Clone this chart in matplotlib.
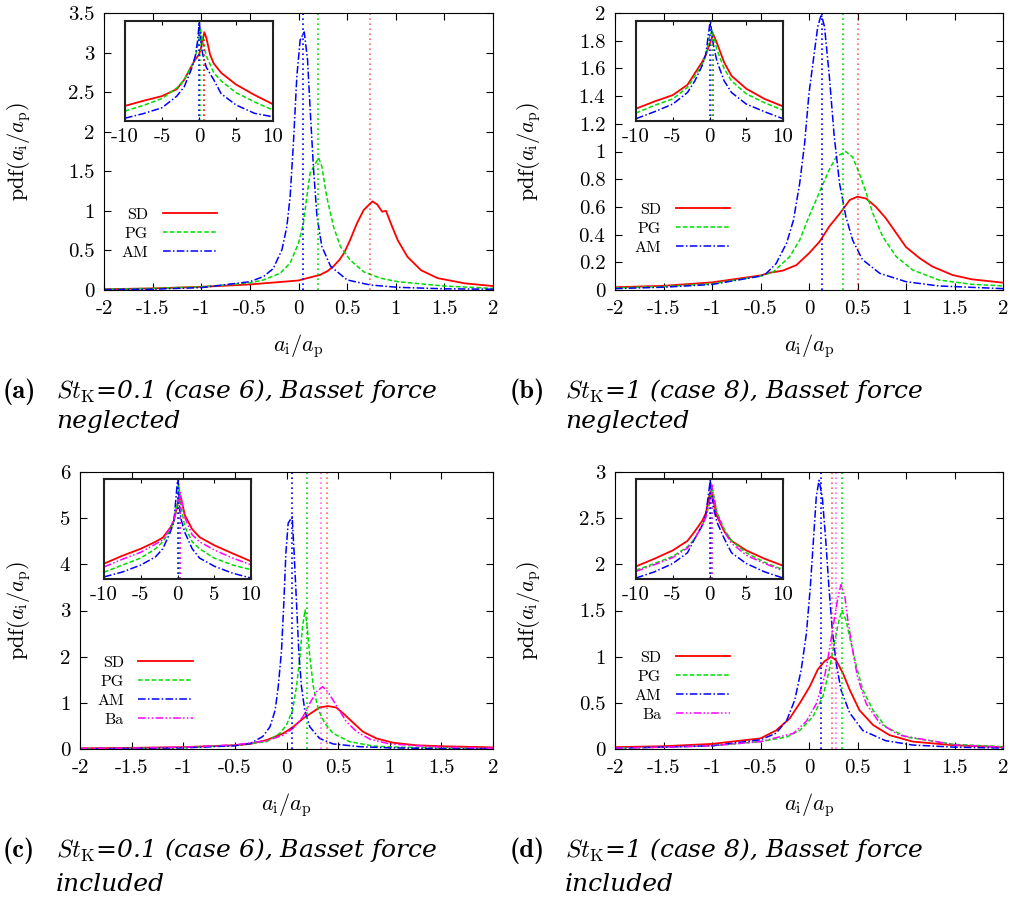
import numpy as np
import matplotlib
matplotlib.use("Agg")
import matplotlib.pyplot as plt

plt.rcParams['mathtext.fontset'] = 'cm'
plt.rcParams['font.family'] = ['cmr10']
plt.rcParams['axes.unicode_minus'] = False
plt.rcParams['axes.formatter.use_mathtext'] = True

# ---- main panel data ----
a_sd_x = [-2, -1.5, -1, -0.5, 0, 0.09, 0.22, 0.3, 0.36, 0.42, 0.47, 0.53, 0.6, 0.67, 0.76, 0.81, 0.86, 0.9, 0.95, 1.02, 1.12, 1.26, 1.43, 1.71, 2]
a_sd_y = [0.01, 0.02, 0.04, 0.07, 0.12, 0.15, 0.19, 0.24, 0.3, 0.38, 0.47, 0.63, 0.84, 1.01, 1.12, 1.08, 0.99, 1.0, 0.84, 0.63, 0.42, 0.25, 0.15, 0.084, 0.05]
a_pg_x = [-2, -1.5, -1, -0.5, -0.36, -0.19, -0.086, 0, 0.05, 0.086, 0.12, 0.207, 0.24, 0.29, 0.36, 0.43, 0.53, 0.67, 0.84, 1.02, 1.5, 2]
a_pg_y = [0.01, 0.02, 0.04, 0.09, 0.127, 0.21, 0.34, 0.59, 0.84, 1.18, 1.48, 1.67, 1.56, 1.18, 0.8, 0.55, 0.38, 0.23, 0.15, 0.105, 0.05, 0.02]
a_am_x = [-2, -1.5, -1, -0.5, -0.36, -0.26, -0.17, -0.12, -0.086, -0.052, -0.017, 0.017, 0.059, 0.093, 0.12, 0.155, 0.19, 0.24, 0.33, 0.5, 0.74, 1.02, 1.5, 2]
a_am_y = [0.005, 0.01, 0.03, 0.105, 0.17, 0.27, 0.51, 0.8, 1.18, 1.86, 2.7, 3.16, 3.26, 2.91, 2.28, 1.52, 0.93, 0.55, 0.3, 0.127, 0.063, 0.034, 0.015, 0.01]
a_means = {'SD': 0.736, 'PG': 0.2, 'AM': 0.05}

b_sd_x = [-2, -1.5, -1, -0.5, -0.4, -0.27, -0.13, 0, 0.11, 0.21, 0.315, 0.42, 0.5, 0.59, 0.69, 0.79, 0.9, 1.0, 1.14, 1.27, 1.48, 1.68, 2]
b_sd_y = [0.02, 0.03, 0.055, 0.105, 0.125, 0.14, 0.18, 0.265, 0.35, 0.46, 0.55, 0.65, 0.674, 0.66, 0.6, 0.52, 0.41, 0.31, 0.23, 0.17, 0.108, 0.077, 0.053]
b_pg_x = [-2, -1.5, -1, -0.5, -0.37, -0.2, -0.096, 0, 0.11, 0.21, 0.28, 0.377, 0.45, 0.52, 0.59, 0.66, 0.76, 0.9, 1.07, 1.34, 1.68, 2]
b_pg_y = [0.015, 0.025, 0.045, 0.1, 0.13, 0.24, 0.36, 0.53, 0.71, 0.87, 0.96, 1.0, 0.96, 0.84, 0.7, 0.55, 0.385, 0.24, 0.144, 0.072, 0.041, 0.03]
b_am_x = [-2, -1.5, -1, -0.5, -0.44, -0.34, -0.23, -0.16, -0.096, -0.045, 0, 0.058, 0.09, 0.127, 0.16, 0.21, 0.26, 0.315, 0.38, 0.45, 0.55, 0.73, 1.0, 1.34, 2]
b_am_y = [0.01, 0.02, 0.04, 0.1, 0.12, 0.19, 0.34, 0.505, 0.77, 1.06, 1.42, 1.73, 1.9, 1.99, 1.9, 1.54, 1.11, 0.77, 0.53, 0.36, 0.22, 0.12, 0.06, 0.029, 0.01]
b_means = {'SD': 0.51, 'PG': 0.352, 'AM': 0.129}

c_sd_x = [-2, -1.5, -1, -0.5, -0.35, -0.19, -0.03, 0.065, 0.16, 0.26, 0.32, 0.4, 0.48, 0.55, 0.65, 0.74, 0.87, 1.03, 1.26, 1.5, 2]
c_sd_y = [0.015, 0.025, 0.04, 0.08, 0.11, 0.195, 0.34, 0.48, 0.66, 0.81, 0.9, 0.93, 0.9, 0.77, 0.56, 0.375, 0.23, 0.137, 0.08, 0.06, 0.035]
c_pg_x = [-2, -1.5, -1, -0.5, -0.19, -0.065, 0, 0.058, 0.097, 0.13, 0.155, 0.18, 0.2, 0.226, 0.26, 0.31, 0.37, 0.45, 0.61, 0.84, 1.0, 1.5, 2]
c_pg_y = [0.01, 0.015, 0.03, 0.08, 0.16, 0.34, 0.52, 0.84, 1.35, 2.0, 2.65, 3.01, 2.65, 2.0, 1.35, 0.84, 0.56, 0.34, 0.16, 0.065, 0.045, 0.02, 0.01]
c_am_x = [-2, -1.5, -1, -0.5, -0.35, -0.23, -0.16, -0.11, -0.08, -0.048, -0.026, -0.006, 0.016, 0.055, 0.074, 0.097, 0.12, 0.145, 0.177, 0.226, 0.32, 0.45, 0.71, 1.0, 1.5, 2]
c_am_y = [0.005, 0.01, 0.025, 0.07, 0.12, 0.27, 0.48, 0.84, 1.35, 2.14, 3.16, 4.24, 4.89, 5.03, 4.24, 3.16, 2.07, 1.35, 0.84, 0.48, 0.23, 0.11, 0.05, 0.025, 0.01, 0.005]
c_ba_x = [-2, -1.5, -1, -0.5, -0.19, -0.03, 0.065, 0.16, 0.226, 0.29, 0.35, 0.4, 0.45, 0.52, 0.58, 0.68, 0.81, 1.0, 1.5, 2]
c_ba_y = [0.012, 0.02, 0.04, 0.09, 0.18, 0.3, 0.45, 0.7, 0.99, 1.24, 1.35, 1.24, 1.06, 0.81, 0.59, 0.375, 0.21, 0.11, 0.04, 0.02]
c_means = {'SD': 0.391, 'PG': 0.2, 'AM': 0.052, 'Ba': 0.333}

d_sd_x = [-2, -1.5, -1, -0.5, -0.34, -0.2, -0.096, 0.007, 0.09, 0.16, 0.23, 0.28, 0.35, 0.42, 0.52, 0.66, 0.83, 1.07, 1.5, 2]
d_sd_y = [0.02, 0.03, 0.055, 0.115, 0.2, 0.33, 0.495, 0.675, 0.86, 0.95, 1.0, 0.96, 0.82, 0.64, 0.42, 0.26, 0.15, 0.08, 0.04, 0.02]
d_pg_x = [-2, -1.5, -1, -0.5, -0.23, -0.096, 0.04, 0.144, 0.21, 0.26, 0.31, 0.34, 0.38, 0.435, 0.49, 0.555, 0.66, 0.79, 1.0, 1.5, 2]
d_pg_y = [0.01, 0.02, 0.035, 0.08, 0.13, 0.2, 0.35, 0.57, 0.86, 1.14, 1.4, 1.5, 1.4, 1.14, 0.89, 0.64, 0.42, 0.24, 0.13, 0.05, 0.025]
d_am_x = [-2, -1.5, -1, -0.5, -0.34, -0.23, -0.147, -0.08, -0.027, 0.014, 0.048, 0.075, 0.103, 0.137, 0.17, 0.205, 0.24, 0.28, 0.33, 0.42, 0.555, 0.79, 1.07, 1.5, 2]
d_am_y = [0.01, 0.02, 0.035, 0.1, 0.17, 0.31, 0.53, 0.86, 1.25, 1.76, 2.3, 2.73, 2.91, 2.73, 2.3, 1.76, 1.29, 0.93, 0.64, 0.39, 0.2, 0.09, 0.043, 0.02, 0.01]
d_ba_x = [-2, -1.5, -1, -0.5, -0.16, -0.027, 0.075, 0.16, 0.21, 0.26, 0.3, 0.33, 0.37, 0.4, 0.45, 0.5, 0.59, 0.73, 0.93, 1.5, 2]
d_ba_y = [0.01, 0.02, 0.035, 0.08, 0.17, 0.3, 0.49, 0.78, 1.07, 1.4, 1.65, 1.78, 1.65, 1.4, 1.07, 0.78, 0.49, 0.28, 0.15, 0.045, 0.02]
d_means = {'SD': 0.235, 'PG': 0.345, 'AM': 0.126, 'Ba': 0.283}

# ---- inset data: log10(pdf) over -10..10 ----
ia_sd_x = [-10, -7.5, -5, -3, -2, -1, -0.5, 0, 0.3, 0.72, 1, 1.5, 2, 3, 5, 7.5, 10]
ia_sd_y = [-3.12, -2.9, -2.7, -2.4, -2.0, -1.4, -1.12, -0.92, -0.6, 0.05, -0.2, -0.92, -1.3, -1.7, -2.2, -2.65, -3.05]
ia_pg_x = [-10, -7.5, -5, -3, -2, -1, -0.5, 0, 0.2, 0.5, 1, 2, 3, 5, 7.5, 10]
ia_pg_y = [-3.34, -3.1, -2.8, -2.35, -2.0, -1.4, -1.05, -0.23, 0.22, -0.37, -0.98, -1.7, -2.05, -2.55, -2.95, -3.3]
ia_am_x = [-10, -7.5, -5, -3, -2, -1, -0.5, -0.2, 0.05, 0.3, 0.5, 1, 2, 3, 5, 7.5, 10]
ia_am_y = [-3.65, -3.45, -3.2, -2.7, -2.3, -1.52, -0.98, -0.35, 0.51, -0.52, -0.9, -1.47, -2.0, -2.6, -3.08, -3.44, -3.59]

ib_sd_x = [-10, -7.5, -5, -3, -2, -1, -0.5, 0, 0.5, 1, 2, 3, 5, 7.5, 10]
ib_sd_y = [-3.08, -2.8, -2.55, -2.15, -1.7, -1.26, -0.98, -0.58, -0.17, -0.51, -1.28, -1.8, -2.3, -2.7, -2.99]
ib_pg_x = [-10, -7.5, -5, -3, -2, -1, -0.5, 0, 0.377, 1, 2, 3, 5, 7.5, 10]
ib_pg_y = [-3.25, -2.95, -2.7, -2.25, -1.82, -1.35, -1.0, -0.28, 0.0, -0.77, -1.52, -2.0, -2.5, -2.85, -3.14]
ib_am_x = [-10, -7.5, -5, -3, -2, -1, -0.5, 0, 0.127, 0.5, 1, 2, 3, 5, 7.5, 10]
ib_am_y = [-3.47, -3.2, -2.9, -2.45, -2.0, -1.4, -0.96, 0.15, 0.3, -0.55, -1.22, -2.0, -2.45, -2.9, -3.2, -3.47]

ic_sd_x = [-10, -7.5, -5, -3, -2, -1, -0.5, 0, 0.4, 1, 2, 3, 5, 7.5, 10]
ic_sd_y = [-2.94, -2.6, -2.3, -2.0, -1.82, -1.4, -1.1, -0.4, -0.03, -0.85, -1.46, -1.8, -2.15, -2.5, -2.84]
ic_pg_x = [-10, -7.5, -5, -3, -2, -1, -0.5, 0, 0.18, 0.5, 1, 2, 3, 5, 7.5, 10]
ic_pg_y = [-3.31, -3.0, -2.7, -2.3, -2.0, -1.52, -1.1, -0.28, 0.48, -0.52, -1.35, -2.0, -2.3, -2.7, -3.0, -3.2]
ic_am_x = [-10, -7.5, -5, -3, -2, -1, -0.5, 0, 0.055, 0.3, 0.5, 1, 2, 3, 5, 7.5, 10]
ic_am_y = [-3.51, -3.3, -3.0, -2.65, -2.3, -1.6, -1.15, 0.63, 0.7, -0.6, -1.05, -1.6, -2.3, -2.7, -3.05, -3.35, -3.56]
ic_ba_x = [-10, -7.5, -5, -3, -2, -1, -0.5, 0, 0.35, 1, 2, 3, 5, 7.5, 10]
ic_ba_y = [-3.08, -2.75, -2.45, -2.1, -1.92, -1.4, -1.05, -0.46, 0.13, -0.96, -1.7, -2.0, -2.35, -2.7, -2.99]

id_sd_x = [-10, -7.5, -5, -3, -2, -1, -0.5, 0, 0.23, 0.5, 1, 2, 3, 5, 7.5, 10]
id_sd_y = [-3.17, -2.85, -2.5, -2.1, -1.7, -1.26, -0.94, -0.17, 0.0, -0.35, -1.05, -1.7, -2.1, -2.5, -2.85, -3.14]
id_pg_x = [-10, -7.5, -5, -3, -2, -1, -0.5, 0, 0.34, 0.5, 1, 2, 3, 5, 7.5, 10]
id_pg_y = [-3.33, -3.05, -2.75, -2.35, -2.0, -1.46, -1.1, -0.52, 0.18, -0.07, -0.89, -1.6, -2.1, -2.6, -3.0, -3.31]
id_am_x = [-10, -7.5, -5, -3, -2, -1, -0.5, 0, 0.103, 0.5, 1, 2, 3, 5, 7.5, 10]
id_am_y = [-3.66, -3.4, -3.05, -2.6, -2.0, -1.46, -1.0, 0.2, 0.46, -0.66, -1.3, -2.0, -2.6, -3.05, -3.4, -3.66]
id_ba_x = [-10, -7.5, -5, -3, -2, -1, -0.5, 0, 0.33, 0.5, 1, 2, 3, 5, 7.5, 10]
id_ba_y = [-3.38, -3.1, -2.8, -2.4, -2.0, -1.46, -1.1, -0.46, 0.25, -0.11, -0.92, -1.7, -2.2, -2.7, -3.05, -3.35]

# ---- ticks and text ----
x_ticks = [-2, -1.5, -1, -0.5, 0, 0.5, 1, 1.5, 2]
x_tick_labels = ["-2", "-1.5", "-1", "-0.5", "0", "0.5", "1", "1.5", "2"]
inset_ticks = [-10, -5, 0, 5, 10]
inset_tick_labels = ["-10", "-5", "0", "5", "10"]
a_yticks = [0, 0.5, 1, 1.5, 2, 2.5, 3, 3.5]
a_ylabels = ["0", "0.5", "1", "1.5", "2", "2.5", "3", "3.5"]
b_yticks = [0, 0.2, 0.4, 0.6, 0.8, 1, 1.2, 1.4, 1.6, 1.8, 2]
b_ylabels = ["0", "0.2", "0.4", "0.6", "0.8", "1", "1.2", "1.4", "1.6", "1.8", "2"]
c_yticks = [0, 1, 2, 3, 4, 5, 6]
c_ylabels = ["0", "1", "2", "3", "4", "5", "6"]
d_yticks = [0, 0.5, 1, 1.5, 2, 2.5, 3]
d_ylabels = ["0", "0.5", "1", "1.5", "2", "2.5", "3"]

captions = [
    ("(a)", r"$St_{\rm K}$=0.1 (case 6), Basset force", "neglected"),
    ("(b)", r"$St_{\rm K}$=1 (case 8), Basset force", "neglected"),
    ("(c)", r"$St_{\rm K}$=0.1 (case 6), Basset force", "included"),
    ("(d)", r"$St_{\rm K}$=1 (case 8), Basset force", "included"),
]

styles = {
    'SD': dict(color='#ff0000', ls='-', lw=1.3),
    'PG': dict(color='#00dd00', ls=(0, (3, 1.5)), lw=1.1),
    'AM': dict(color='#0000ff', ls=(0, (5, 1.5, 1, 1.5)), lw=1.1),
    'Ba': dict(color='#ff00ff', ls=(0, (5, 1.5, 1, 1.5, 1, 1.5)), lw=1.1),
}

W, H = 1019, 902
fig = plt.figure(figsize=(W / 100, H / 100), dpi=100)


def px_rect(x0, y0, x1, y1):
    return [x0 / W, 1 - y1 / H, (x1 - x0) / W, (y1 - y0) / H]


panels = [
    dict(rect=(104, 13, 493, 290), inset=(125, 21, 273, 121), ylim=3.5, yt=a_yticks, yl=a_ylabels,
         series={'SD': (a_sd_x, a_sd_y), 'PG': (a_pg_x, a_pg_y), 'AM': (a_am_x, a_am_y)},
         iseries={'SD': (ia_sd_x, ia_sd_y), 'PG': (ia_pg_x, ia_pg_y), 'AM': (ia_am_x, ia_am_y)},
         ilim=(-3.77, 0.53), means=a_means, leg=(0.045, 0.297), ylab=-0.183),
    dict(rect=(615, 13, 1003, 290), inset=(636, 21, 783, 121), ylim=2.0, yt=b_yticks, yl=b_ylabels,
         series={'SD': (b_sd_x, b_sd_y), 'PG': (b_pg_x, b_pg_y), 'AM': (b_am_x, b_am_y)},
         iseries={'SD': (ib_sd_x, ib_sd_y), 'PG': (ib_pg_x, ib_pg_y), 'AM': (ib_am_x, ib_am_y)},
         ilim=(-3.56, 0.34), means=b_means, leg=(0.05, 0.315), ylab=-0.186),
    dict(rect=(80, 472, 493, 749), inset=(104, 479, 251, 579), ylim=6.0, yt=c_yticks, yl=c_ylabels,
         series={'SD': (c_sd_x, c_sd_y), 'PG': (c_pg_x, c_pg_y), 'AM': (c_am_x, c_am_y), 'Ba': (c_ba_x, c_ba_y)},
         iseries={'SD': (ic_sd_x, ic_sd_y), 'PG': (ic_pg_x, ic_pg_y), 'AM': (ic_am_x, ic_am_y), 'Ba': (ic_ba_x, ic_ba_y)},
         ilim=(-3.6, 0.7), means=c_means, leg=(0.042, 0.337), ylab=-0.114),
    dict(rect=(615, 472, 1003, 749), inset=(636, 479, 783, 579), ylim=3.0, yt=d_yticks, yl=d_ylabels,
         series={'SD': (d_sd_x, d_sd_y), 'PG': (d_pg_x, d_pg_y), 'AM': (d_am_x, d_am_y), 'Ba': (d_ba_x, d_ba_y)},
         iseries={'SD': (id_sd_x, id_sd_y), 'PG': (id_pg_x, id_pg_y), 'AM': (id_am_x, id_am_y), 'Ba': (id_ba_x, id_ba_y)},
         ilim=(-3.7, 0.5), means=d_means, leg=(0.05, 0.355), ylab=-0.186),
]

for p in panels:
    ax = fig.add_axes(px_rect(*p['rect']))
    handles = []
    for name, (xs, ys) in p['series'].items():
        ln, = ax.plot(xs, ys, label=name, **styles[name])
        handles.append(ln)
    for name, m in p['means'].items():
        ax.axvline(m, color=styles[name]['color'], ls=(0, (1, 2)), lw=1.2,
                   alpha=0.6 if name in ('SD', 'Ba') else 1.0)
    ax.set_xlim(-2, 2)
    ax.set_ylim(0, p['ylim'])
    ax.set_xticks(x_ticks, x_tick_labels)
    ax.set_yticks(p['yt'], p['yl'])
    ax.tick_params(direction='in', top=True, right=True, length=5, width=0.8,
                   labelsize=15, pad=7)
    ax.set_xlabel(r"$a_{\rm i}/a_{\rm p}$", fontsize=16)
    ax.xaxis.set_label_coords(0.5, -0.15)
    ax.set_ylabel(r"pdf($a_{\rm i}/a_{\rm p}$)", fontsize=16)
    ax.yaxis.set_label_coords(p['ylab'], 0.5)
    ax.legend(handles=handles, loc='upper left', bbox_to_anchor=p['leg'],
              frameon=False, markerfirst=False, fontsize=11.5, handlelength=3.4,
              handletextpad=0.9, labelspacing=0.3, borderpad=0, borderaxespad=0)

    ins = fig.add_axes(px_rect(*p['inset']))
    for name, (xs, ys) in p['iseries'].items():
        ins.plot(xs, ys, **styles[name])
    for name, m in p['means'].items():
        xs, ys = p['iseries'][name]
        ins.vlines(m, p['ilim'][0], np.interp(m, xs, ys), color=styles[name]['color'],
                   ls=(0, (1, 2)), lw=1.2)
    ins.set_xlim(-10, 10)
    ins.set_ylim(*p['ilim'])
    ins.set_xticks(inset_ticks, inset_tick_labels)
    ins.set_yticks([])
    ins.tick_params(axis='x', direction='in', top=True, length=3, labelsize=15, pad=5)
    for s in ins.spines.values():
        s.set_linewidth(1.5)
        s.set_color('#222222')

cap_pos = [(3, 56, 398, 428), (510, 565, 398, 428), (3, 56, 857, 891), (510, 565, 857, 891)]
for (tag, line1, line2), (xt, xs, y1, y2) in zip(captions, cap_pos):
    fig.text(xt / W, 1 - y1 / H, tag, family='cmb10', fontsize=19, va='baseline')
    fig.text(xs / W, 1 - y1 / H, line1, family='DejaVu Serif', style='italic',
             fontsize=18, va='baseline')
    fig.text(xs / W, 1 - y2 / H, line2, family='DejaVu Serif', style='italic',
             fontsize=18, va='baseline')

fig.savefig("out.png", dpi=100)
